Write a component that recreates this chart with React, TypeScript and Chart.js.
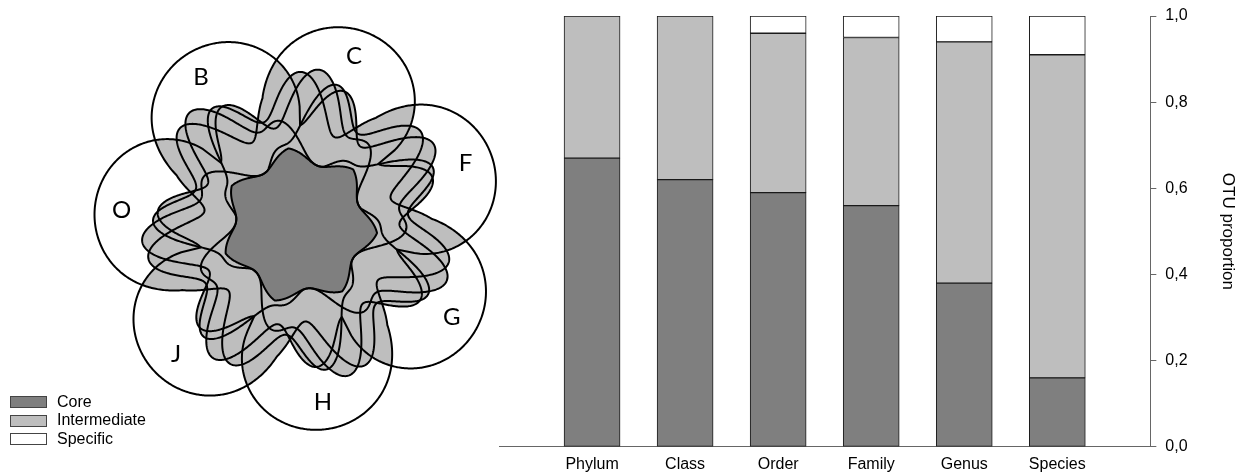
import React, { useEffect, useRef } from 'react';
import { Chart, registerables } from 'chart.js';

Chart.register(...registerables);

// ---- Data ----
const categories = ['Phylum', 'Class', 'Order', 'Family', 'Genus', 'Species'];
const coreValues = [0.67, 0.62, 0.59, 0.56, 0.38, 0.16];
const intermediateValues = [0.33, 0.38, 0.37, 0.39, 0.56, 0.75];
const specificValues = [0, 0, 0.04, 0.05, 0.06, 0.09];
const seriesNames = ['Core', 'Intermediate', 'Specific'];
const seriesColors = ['#7f7f7f', '#bebebe', '#ffffff'];
const yTicks = [0, 0.2, 0.4, 0.6, 0.8, 1.0];
const yTitle = 'OTU proportion';
// flower diagram sets, clockwise starting from the top-right petal
const setLabels = ['C', 'F', 'G', 'H', 'J', 'O', 'B'];

const FONT = '"Liberation Sans", Arial, sans-serif';
const DEG = Math.PI / 180;

// outer lobe: ellipse on the petal axis, intersected with a ray from the centre
function lobeRadius(ad: number): number {
  const D = 133;
  const a = 72;
  const b = 75;
  const c = Math.cos(ad);
  const s = Math.sin(ad);
  const A = (c * c) / (a * a) + (s * s) / (b * b);
  const B = (D * c) / (a * a);
  const C = (D * D) / (a * a) - 1;
  const disc = B * B - A * C;
  if (disc < 0 || c <= 0) return 0;
  return (B + Math.sqrt(disc)) / A;
}

// radius of one set's outline as a function of angle offset from its petal axis
function setRadius(d: number): number {
  const ad = Math.abs(d);
  const lobe = lobeRadius(ad);
  const t = Math.min(1, Math.max(0, (ad - 100 * DEG) / (52 * DEG)));
  const sm = t * t * (3 - 2 * t);
  const Rm = 126;
  const Rp = 82;
  const wig = (24 * Math.sin(9 * d - 0.3) + 8 * Math.sin(4 * d + 1.1)) * (1 - sm);
  const dip = 19 * Math.exp(-(((ad - 154.3 * DEG) / (20 * DEG)) ** 2));
  const inner = Rm * (1 - sm) + Rp * sm + wig - dip;
  // smooth maximum to avoid sharp kinks
  const k = 0.15;
  const m = Math.max(lobe, inner);
  return m + Math.log(Math.exp(k * (lobe - m)) + Math.exp(k * (inner - m))) / k;
}

const flowerPlugin = {
  id: 'flowerVenn',
  afterDraw(chart: any) {
    const ctx: CanvasRenderingContext2D = chart.ctx;
    const cx = 299;
    const cy = 226;
    const n = setLabels.length;
    const theta0 = -72 * DEG;
    const steps = 1200;
    const paths: Path2D[] = [];
    for (let k = 0; k < n; k++) {
      const tk = theta0 + (k * 2 * Math.PI) / n;
      const p = new Path2D();
      for (let i = 0; i <= steps; i++) {
        const phi = (i / steps) * 2 * Math.PI;
        let d = phi - tk;
        while (d > Math.PI) d -= 2 * Math.PI;
        while (d < -Math.PI) d += 2 * Math.PI;
        const r = setRadius(d);
        const x = cx + r * Math.cos(phi);
        const y = cy + r * Math.sin(phi);
        if (i === 0) p.moveTo(x, y);
        else p.lineTo(x, y);
      }
      p.closePath();
      paths.push(p);
    }
    ctx.save();
    // intermediate: any pairwise overlap
    for (let i = 0; i < n; i++) {
      for (let j = i + 1; j < n; j++) {
        ctx.save();
        ctx.clip(paths[i]);
        ctx.fillStyle = seriesColors[1];
        ctx.fill(paths[j]);
        ctx.restore();
      }
    }
    // core: intersection of all
    ctx.save();
    for (let k = 0; k < n; k++) ctx.clip(paths[k]);
    ctx.fillStyle = seriesColors[0];
    ctx.fillRect(cx - 260, cy - 260, 520, 520);
    ctx.restore();
    // outlines
    ctx.lineWidth = 2;
    ctx.strokeStyle = '#000';
    ctx.lineJoin = 'round';
    for (let k = 0; k < n; k++) ctx.stroke(paths[k]);
    // labels
    ctx.fillStyle = '#000';
    ctx.font = '24px Lato, "Open Sans", sans-serif';
    ctx.textAlign = 'center';
    ctx.textBaseline = 'middle';
    for (let k = 0; k < n; k++) {
      const tk = theta0 + (k * 2 * Math.PI) / n;
      ctx.fillText(setLabels[k], cx + 178 * Math.cos(tk), cy + 178 * Math.sin(tk));
    }
    ctx.restore();
  },
};

export default function App() {
  const ref = useRef<HTMLCanvasElement>(null);

  useEffect(() => {
    document.body.style.margin = '0';
    const canvas = ref.current;
    if (!canvas) return;
    Chart.defaults.font.family = FONT;
    const seriesValues = [coreValues, intermediateValues, specificValues];
    const chart = new Chart(canvas, {
      type: 'bar',
      data: {
        datasets: seriesNames.map((name, s) => ({
          label: name,
          data: categories.map((_, i) => ({ x: i, y: seriesValues[s][i] })),
          backgroundColor: seriesColors[s],
          borderColor: '#1a1a1a',
          borderWidth: 1,
          borderSkipped: false,
          barThickness: 56,
        })),
      },
      options: {
        responsive: false,
        animation: false,
        layout: { padding: { left: 499, right: 0, top: 16, bottom: -8 } },
        plugins: {
          legend: { display: false },
          tooltip: { enabled: false },
        },
        scales: {
          x: {
            type: 'linear',
            min: -1,
            max: 6,
            stacked: true,
            offset: false,
            grid: { display: false, drawTicks: false },
            border: { display: true, color: '#666', width: 1 },
            afterBuildTicks: (scale: any) => {
              scale.ticks = categories.map((_, i) => ({ value: i }));
            },
            ticks: {
              autoSkip: false,
              maxRotation: 0,
              padding: 8,
              color: '#000',
              font: { size: 16 },
              callback: (v: any) => categories[Number(v)] ?? '',
            },
          },
          y: {
            position: 'right',
            min: 0,
            max: 1,
            stacked: true,
            grid: { display: true, drawOnChartArea: false, drawTicks: true, tickLength: 6, color: '#666' },
            border: { display: true, color: '#666', width: 1 },
            afterBuildTicks: (scale: any) => {
              scale.ticks = yTicks.map((v) => ({ value: v }));
            },
            ticks: {
              padding: 9,
              color: '#000',
              font: { size: 16, lineHeight: 0.8 },
              callback: (v: any) => Number(v).toFixed(1).replace('.', ','),
            },
            title: {
              display: true,
              text: yTitle,
              color: '#000',
              font: { size: 17 },
              padding: { top: 4, bottom: 21 },
            },
          },
        },
      } as any,
      plugins: [flowerPlugin],
    });
    return () => chart.destroy();
  }, []);

  return (
    <div style={{ position: 'relative', width: 1242, height: 474, background: '#fff' }}>
      <canvas ref={ref} width={1242} height={474} style={{ display: 'block' }} />
      <div style={{ position: 'absolute', left: 10, top: 392.6, font: `16px ${FONT}`, color: '#000' }}>
        {seriesNames.map((name, i) => (
          <div key={name} style={{ display: 'flex', alignItems: 'center', height: 18.7 }}>
            <span
              style={{
                display: 'inline-block',
                width: 37,
                height: 12,
                boxSizing: 'border-box',
                border: '1px solid #444',
                background: seriesColors[i],
                marginRight: 10,
              }}
            />
            <span style={{ lineHeight: '18.7px' }}>{name}</span>
          </div>
        ))}
      </div>
    </div>
  );
}
